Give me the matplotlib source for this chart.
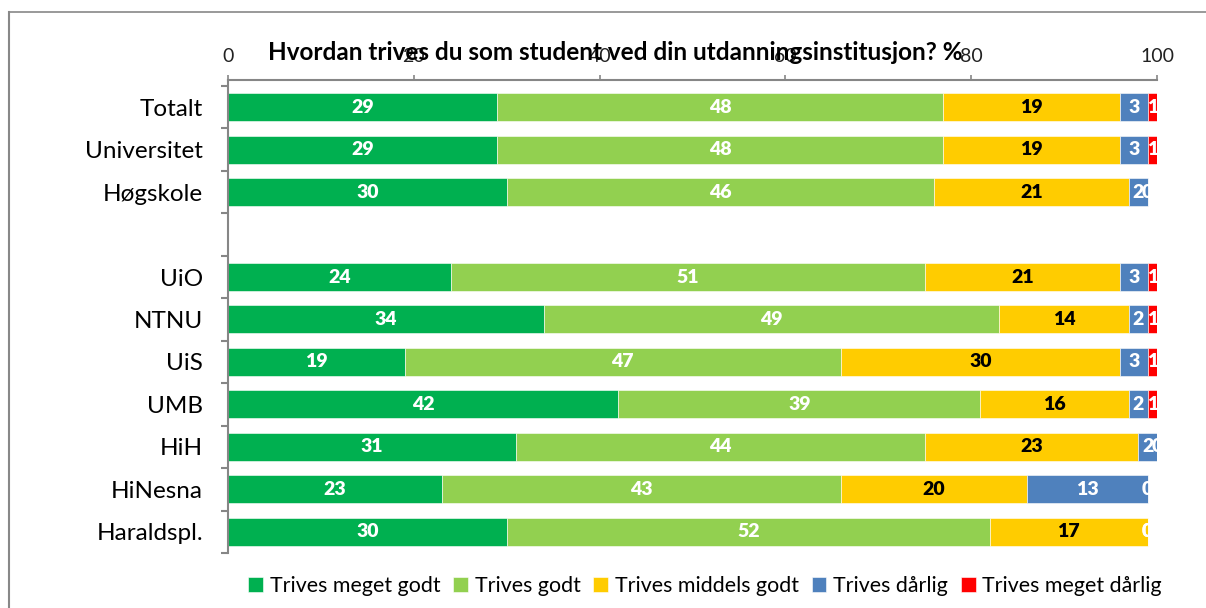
import numpy as np
import matplotlib.pyplot as plt
from matplotlib.lines import Line2D

plt.rcParams['font.family'] = ['Lato', 'DejaVu Sans']

# Data (percent), one row per institution, blank row as spacer
categories = ['Totalt', 'Universitet', 'Høgskole', '', 'UiO', 'NTNU', 'UiS',
              'UMB', 'HiH', 'HiNesna', 'Haraldspl.']
meget_godt = [29, 29, 30, np.nan, 24, 34, 19, 42, 31, 23, 30]
godt = [48, 48, 46, np.nan, 51, 49, 47, 39, 44, 43, 52]
middels = [19, 19, 21, np.nan, 21, 14, 30, 16, 23, 20, 17]
daarlig = [3, 3, 2, np.nan, 3, 2, 3, 2, 2, 13, 0]
meget_daarlig = [1, 1, 0, np.nan, 1, 1, 1, 1, 0, 0, 0]

series = [meget_godt, godt, middels, daarlig, meget_daarlig]
names = ['Trives meget godt', 'Trives godt', 'Trives middels godt',
         'Trives dårlig', 'Trives meget dårlig']
colors = ['#00B050', '#92D050', '#FFCC00', '#4F81BD', '#FF0000']
text_colors = ['white', 'white', 'black', 'white', 'white']

fig = plt.figure(figsize=(12.06, 6.08), dpi=100)
ax = fig.add_axes([228/1206, 1-553/608, (1157-228)/1206, (553-80)/608])

y = np.arange(len(categories))
left = np.zeros(len(categories))
for vals, name, col, tcol in zip(series, names, colors, text_colors):
    v = np.array(vals, dtype=float)
    ax.barh(y, np.nan_to_num(v), left=left, height=0.66, color=col,
            edgecolor='white', linewidth=0.4, label=name)
    for i, val in enumerate(v):
        if np.isnan(val):
            continue
        ax.text(left[i] + val/2, y[i], f'{int(val)}', ha='center', va='center',
                color=tcol, fontsize=14, fontweight='heavy')
    left += np.nan_to_num(v)

ax.set_xlim(0, 100)
ax.set_ylim(len(categories) - 0.5, -0.64)
ax.xaxis.tick_top()
ax.set_xticks(np.arange(0, 101, 20))
ax.tick_params(axis='x', direction='out', length=3.6, width=1.2, color='#868686',
               labelsize=14, pad=7, labelcolor='#222222')
ax.set_yticks(y)
ax.set_yticklabels(categories, fontsize=17.5)
ax.set_yticks(np.arange(-0.5, len(categories)), minor=True)
ax.tick_params(axis='y', which='major', length=0, pad=18)
ax.tick_params(axis='y', which='minor', length=5, color='#868686', width=1.5)
for s in ['right', 'bottom']:
    ax.spines[s].set_visible(False)
for s in ['top', 'left']:
    ax.spines[s].set_color('#868686')
    ax.spines[s].set_linewidth(1.5)

fig.text(615/1206, 1-52/608, 'Hvordan trives du som student ved din utdanningsinstitusjon? %',
         ha='center', va='center', fontsize=17.5, fontweight='bold')

fig.legend(loc='center', bbox_to_anchor=(705/1206, 1-586/608), ncol=5,
           frameon=False, fontsize=15.4, handlelength=0.7, handleheight=0.7,
           handletextpad=0.3, columnspacing=0.6)

# outer chart frame
fig.add_artist(Line2D([9/1206, 1], [1-12/608, 1-12/608], color='#888888', lw=1.2))
fig.add_artist(Line2D([9/1206, 9/1206], [0, 1-12/608], color='#888888', lw=1.5))

fig.savefig('out.png', dpi=100)
